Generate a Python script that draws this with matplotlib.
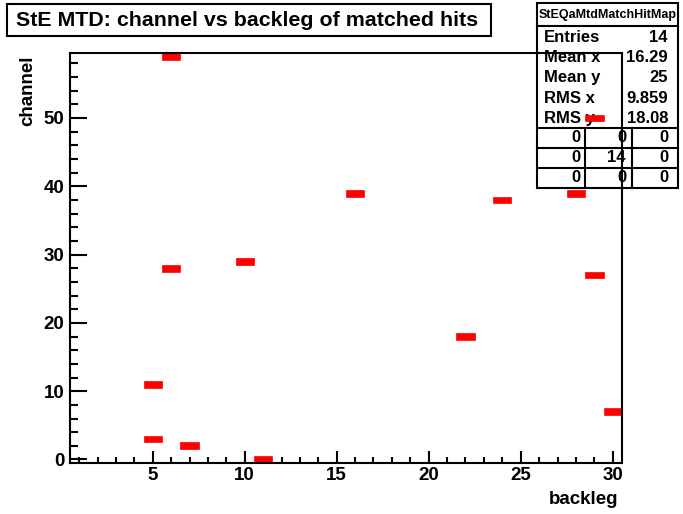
import matplotlib
matplotlib.use("Agg")
import matplotlib.pyplot as plt
from matplotlib.lines import Line2D
from matplotlib.patches import Rectangle
from matplotlib.ticker import MultipleLocator

plt.rcParams['font.family'] = ['Liberation Sans', 'DejaVu Sans']
plt.rcParams['font.weight'] = 'bold'

# Hits: backleg (x) and channel (y)
backleg = [6, 5, 5, 7, 11, 6, 10, 16, 22, 24, 28, 29, 30, 29]
channel = [59, 11, 3, 2, 0, 28, 29, 39, 18, 38, 39, 27, 7, 50]

title = "StE MTD: channel vs backleg of matched hits"
hist_name = "StEQaMtdMatchHitMap"
stat_names = ["Entries", "Mean x", "Mean y", "RMS x", "RMS y"]
stat_values = ["14", "16.29", "25", "9.859", "18.08"]
overflow_grid = [["0", "0", "0"], ["0", "14", "0"], ["0", "0", "0"]]

W, H = 683, 514
fig = plt.figure(figsize=(W / 100, H / 100), dpi=100)


def fx(px):
    return px / W


def fy(py):
    return 1 - py / H


# Frame of the histogram
ax = fig.add_axes([fx(69.9), fy(462.9), fx(621.9) - fx(69.9), fy(53.1) - fy(462.9)])
ax.patch.set_alpha(0)
ax.bar(backleg, 1, width=1, bottom=[c - 0.5 for c in channel], color="#ff0000",
       edgecolor="#ff0000", linewidth=0.5, zorder=3)
ax.set_xlim(0.5, 30.5)
ax.set_ylim(-0.5, 59.5)
for s in ax.spines.values():
    s.set_linewidth(1.5)
    s.set_zorder(4)
ax.xaxis.set_major_locator(MultipleLocator(5))
ax.xaxis.set_minor_locator(MultipleLocator(1))
ax.yaxis.set_major_locator(MultipleLocator(10))
ax.yaxis.set_minor_locator(MultipleLocator(2))
ax.tick_params(axis="both", which="both", direction="in", top=False, right=False,
               labelsize=13.5, width=1.5)
ax.tick_params(axis="x", which="major", length=8.8, pad=3)
ax.tick_params(axis="x", which="minor", length=4.4)
ax.tick_params(axis="y", which="major", length=12, pad=4)
ax.tick_params(axis="y", which="minor", length=6)

fig.text(fx(618), fy(500), "backleg", ha="right", va="center", fontsize=13.5,
         fontweight="bold")
fig.text(fx(28), fy(55), "channel", ha="center", va="top", rotation=90,
         fontsize=13.5, fontweight="bold")

# Title box
fig.patches.append(Rectangle((fx(7), fy(36)), fx(491) - fx(7), fy(4) - fy(36),
                             transform=fig.transFigure, facecolor="white",
                             edgecolor="black", linewidth=1.5))
fig.text(fx(247), fy(20.5), title, ha="center", va="center", fontsize=15.4,
         fontweight="bold")

# Stats box (drawn underneath the frame and the hits)
bx0, bx1, by0, by1 = 537, 678, 3, 188
fig.patches.append(Rectangle((fx(bx0), fy(by1)), fx(bx1) - fx(bx0), fy(by0) - fy(by1),
                             transform=fig.transFigure, facecolor="white",
                             edgecolor="black", linewidth=1.5, zorder=-2))
for yy in [26, 128, 148, 168]:
    fig.add_artist(Line2D([fx(bx0), fx(bx1)], [fy(yy), fy(yy)], color="black",
                          linewidth=1.5, zorder=-1))
for xx in [585, 631.5]:
    fig.add_artist(Line2D([fx(xx), fx(xx)], [fy(128), fy(188)], color="black",
                          linewidth=1.5, zorder=-1))
fig.text(fx((bx0 + bx1) / 2), fy(15), hist_name, ha="center", va="center",
         fontsize=9, fontweight="bold", zorder=-1)
for i, (name, val) in enumerate(zip(stat_names, stat_values)):
    yy = 37 + i * 20.4
    fig.text(fx(544), fy(yy), name, ha="left", va="center", fontsize=12,
             fontweight="bold", zorder=-1)
    fig.text(fx(668), fy(yy), val, ha="right", va="center", fontsize=12,
             fontweight="bold", zorder=-1)
cell_right = [580, 626, 668]
for r, row in enumerate(overflow_grid):
    for c, val in enumerate(row):
        fig.text(fx(cell_right[c]), fy(138 + r * 20), val, ha="right", va="center",
                 fontsize=12, fontweight="bold", zorder=-1)

fig.savefig("out.png", dpi=100)
